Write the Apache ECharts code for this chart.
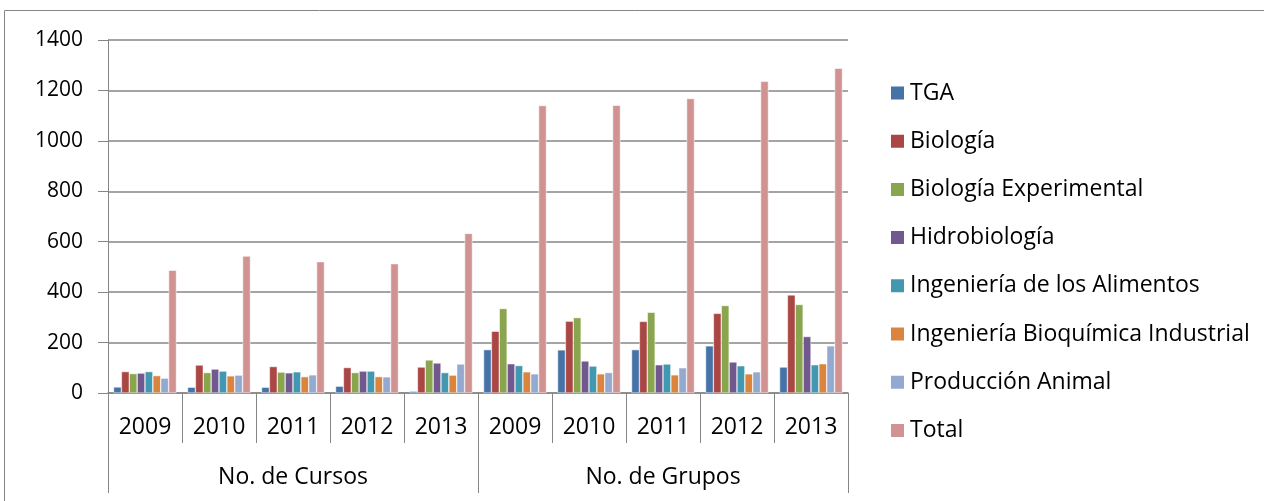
<!DOCTYPE html>
<html>
<head>
<meta charset="utf-8">
<script src="https://cdn.jsdelivr.net/npm/echarts@6/dist/echarts.min.js"></script>
<style>
  html, body { margin: 0; padding: 0; background: #fff; }
  #mychart { width: 1264px; height: 501px; }
</style>
</head>
<body>
<div id="mychart"></div>
<script>
// datos
var years = ["2009", "2010", "2011", "2012", "2013", "2009", "2010", "2011", "2012", "2013"];
var groups = ["No. de Cursos", "No. de Grupos"];
var seriesNames = ["TGA", "Biología", "Biología Experimental", "Hidrobiología",
  "Ingeniería de los Alimentos", "Ingeniería Bioquímica Industrial", "Producción Animal", "Total"];

var tga        = [24, 23, 23, 27, 7, 172, 171, 172, 187, 103];
var biologia   = [85, 111, 105, 101, 103, 245, 285, 284, 316, 389];
var bioExp     = [77, 81, 83, 81, 131, 335, 299, 320, 347, 351];
var hidro      = [79, 95, 80, 87, 119, 116, 127, 112, 123, 224];
var ingAlim    = [85, 87, 84, 87, 81, 109, 107, 115, 108, 112];
var ingBioq    = [69, 68, 65, 65, 71, 84, 76, 72, 76, 116];
var prodAnimal = [59, 71, 72, 64, 115, 76, 81, 100, 84, 187];
var total      = [487, 543, 521, 513, 633, 1140, 1141, 1168, 1236, 1288];

var yTicks = [0, 200, 400, 600, 800, 1000, 1200, 1400];

var colors = ["#4572A7", "#AA4643", "#89A54E", "#71588F", "#4198AF", "#DB843D", "#93A9CF", "#D19392"];
var allData = [tga, biologia, bioExp, hidro, ingAlim, ingBioq, prodAnimal, total];

var font = "'Open Sans', 'Noto Sans', sans-serif";
var gray = "#868686";

var mycharts = echarts.init(document.getElementById("mychart"));

var series = seriesNames.map(function (name, i) {
  return {
    name: name,
    type: "bar",
    xAxisIndex: 0,
    barGap: "0%",
    barCategoryGap: "15%",
    data: allData[i],
    itemStyle: { color: colors[i], borderColor: "#fff", borderWidth: 0.5 }
  };
});

var option = {
  animation: false,
  color: colors,
  graphic: [{
    type: "rect",
    shape: { x: 4.5, y: 10.5, width: 1300, height: 600 },
    style: { fill: null, stroke: gray, lineWidth: 1 },
    silent: true
  }],
  grid: { left: 108, right: 416, top: 40, bottom: 108, containLabel: false },
  legend: {
    orient: "vertical",
    left: 889,
    top: 81.5,
    padding: 0,
    itemWidth: 15,
    itemHeight: 15,
    itemGap: 25.2,
    icon: "rect",
    textStyle: { fontFamily: font, fontSize: 23, lineHeight: 23, color: "#000", padding: [0, 0, 0, 0] },
    data: seriesNames
  },
  xAxis: [{
    type: "category",
    data: years,
    axisLine: { show: true, lineStyle: { color: gray, width: 1.5 } },
    axisTick: { show: true, alignWithLabel: false, length: 50, lineStyle: { color: gray, width: 1 } },
    axisLabel: { margin: 23, fontFamily: font, fontSize: 23, color: "#000", interval: 0 }
  }, {
    type: "category",
    data: groups,
    position: "bottom",
    axisLine: { show: false },
    axisTick: { show: true, alignWithLabel: false, length: 100, lineStyle: { color: gray, width: 1 } },
    axisLabel: { margin: 73, fontFamily: font, fontSize: 23, color: "#000" }
  }],
  yAxis: {
    type: "value",
    min: 0,
    max: 1400,
    interval: 200,
    axisLine: { show: true, lineStyle: { color: gray, width: 1 } },
    axisTick: { show: true, length: 10, lineStyle: { color: gray } },
    axisLabel: { margin: 25, fontFamily: font, fontSize: 21, color: "#000",
      formatter: function (v) { return yTicks.indexOf(v) >= 0 ? String(v) : ""; } },
    splitLine: { lineStyle: { color: gray, width: 1.5 } }
  },
  series: series
};

mycharts.setOption(option);
</script>
</body>
</html>
